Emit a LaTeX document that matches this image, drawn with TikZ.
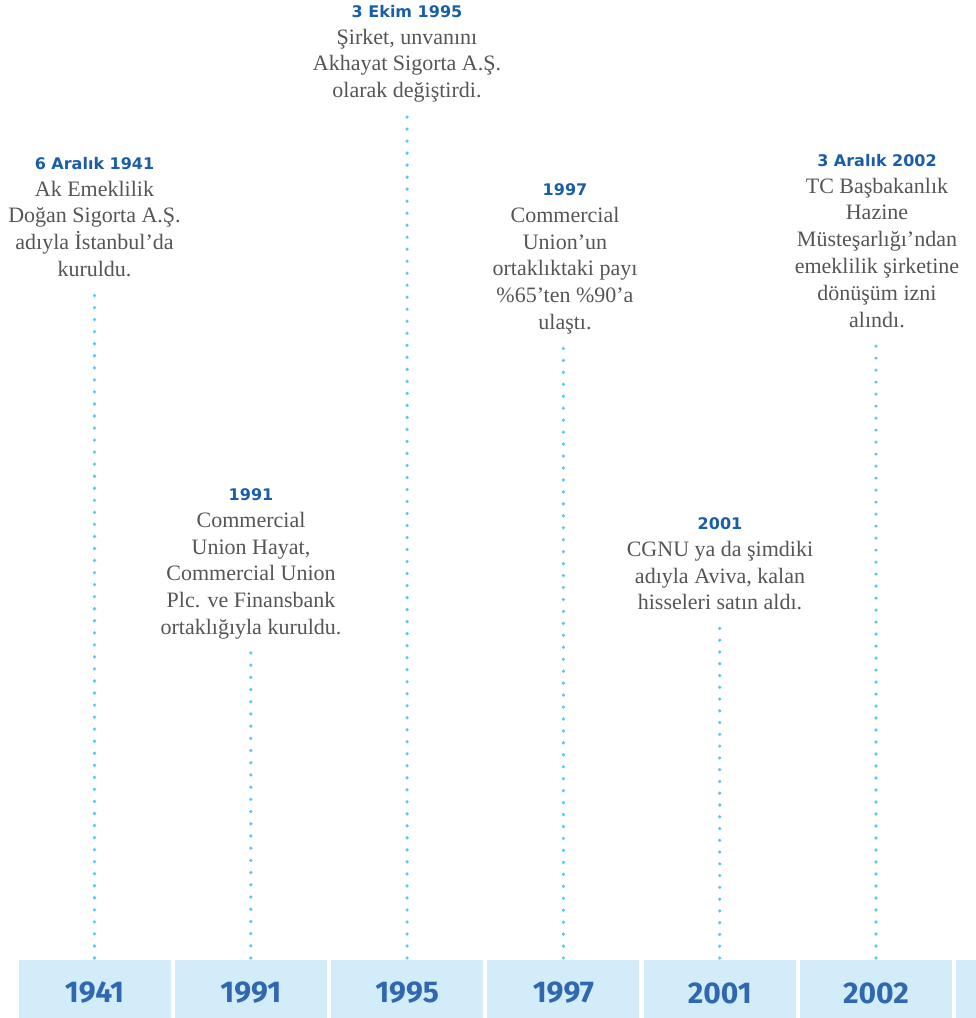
\documentclass[tikz,border=0pt]{standalone}
\usepackage{fontspec}
\usetikzlibrary{calc}
\setmainfont{Liberation Serif}
\newfontfamily\hdrfont{DejaVu Sans}
\newfontfamily\yrfont{Fira Sans}
\definecolor{boxblue}{HTML}{D2ECFA}
\definecolor{yearblue}{HTML}{2F68AE}
\definecolor{hdrblue}{HTML}{1A5EA8}
\definecolor{bodygray}{HTML}{555555}
\definecolor{dotblue}{HTML}{5CC7F2}
\newcommand{\hdr}{\color{hdrblue}\hdrfont\bfseries\fontsize{16}{26.8}\selectfont}
\newcommand{\dotlink}[2]{%
  \path let \p1=(#1.north), \p2=(#1.north |- #2.south) in
    \pgfextra{\pgfmathsetmacro\dotlen{abs(\y2-\y1)-14.5}%
      \pgfmathsetmacro\dotgapx{\dotlen/max(1,round(\dotlen/12))-0.02}%
      \xdef\dotgap{\dotgapx}};
  \draw[link, dash pattern=on 0pt off \dotgap pt] (#1.north) -- (#1.north |- #2.south);}
\begin{document}
\begin{tikzpicture}[x=1pt,y=-1pt,
  yearbox/.style={fill=boxblue, minimum width=152pt, minimum height=66pt, inner sep=0pt,
    font=\yrfont\bfseries\fontsize{30}{32}\selectfont, text=yearblue},
  event/.style={align=center, inner sep=0pt, text=bodygray,
    font=\fontsize{22}{26.8}\selectfont, text depth=5pt, anchor=north},
  link/.style={draw=dotblue, line width=3.6pt, line cap=round,
    shorten <=1.8pt, shorten >=13pt},
]
\useasboundingbox (0,0) rectangle (976,1018);

\node[yearbox] (b1) at (94.5,993) {1941};
\node[yearbox] (b2) at (250.8,993) {1991};
\node[yearbox] (b3) at (407.1,993) {1995};
\node[yearbox] (b4) at (563.4,993) {1997};
\node[yearbox] (b5) at (719.7,993) {2001};
\node[yearbox] (b6) at (876,993) {2002};
\node[yearbox] (b7) at (1032.3,993) {};

\node[event] (t1) at (94.5,157) {{\hdr 6 Aralık 1941}\\Ak Emeklilik\\Doğan Sigorta A.Ş.\\adıyla İstanbul’da\\kuruldu.};
\node[event] (t2) at (251,488.5) {{\hdr 1991}\\Commercial\\Union Hayat,\\Commercial Union\\Plc. ve Finansbank\\ortaklığıyla kuruldu.};
\node[event] (t3) at (407,5) {{\hdr 3 Ekim 1995}\\Şirket, unvanını\\Akhayat Sigorta A.Ş.\\olarak değiştirdi.};
\node[event] (t4) at (565,183.5) {{\hdr 1997}\\Commercial\\Union’un\\ortaklıktaki payı\\\%65’ten \%90’a\\ulaştı.};
\node[event] (t5) at (720,517.5) {{\hdr 2001}\\CGNU ya da şimdiki\\adıyla Aviva, kalan\\hisseleri satın aldı.};
\node[event] (t6) at (877,154) {{\hdr 3 Aralık 2002}\\TC Başbakanlık\\Hazine\\Müsteşarlığı’ndan\\emeklilik şirketine\\dönüşüm izni\\alındı.};

\dotlink{b1}{t1}
\dotlink{b2}{t2}
\dotlink{b3}{t3}
\dotlink{b4}{t4}
\dotlink{b5}{t5}
\dotlink{b6}{t6}
\end{tikzpicture}
\end{document}
